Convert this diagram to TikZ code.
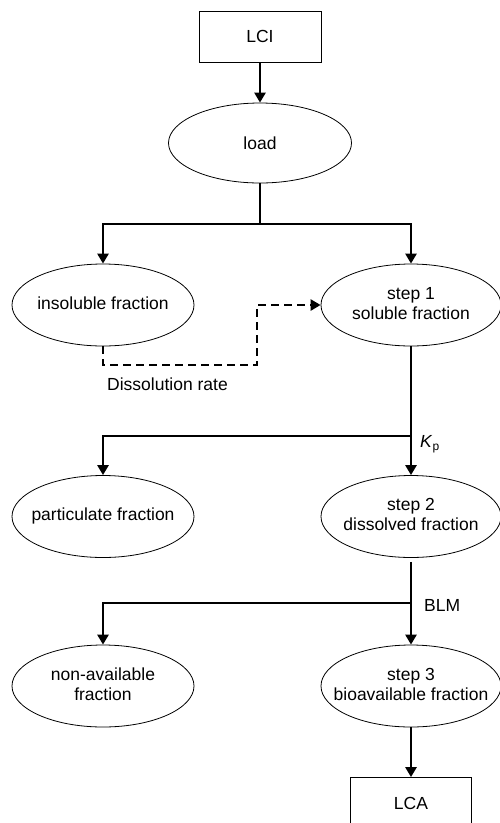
\documentclass[tikz,border=0pt]{standalone}
\usepackage{fontspec}
\setmainfont{Liberation Sans}
\usetikzlibrary{shapes.geometric,arrows.meta}
\newcommand{\etext}[1]{\makebox[0pt]{\begin{tabular}{@{}c@{}}#1\end{tabular}}}
\begin{document}
\begin{tikzpicture}[x=1pt,y=-1pt,
  font=\fontsize{17.5}{20}\selectfont,
  boxnode/.style={draw, line width=0.8pt, minimum width=122pt, minimum height=51pt, inner sep=0pt},
  ellnode/.style={draw, ellipse, line width=0.8pt, minimum width=182pt, minimum height=82pt, inner sep=0pt},
  conn/.style={line width=2.8pt},
  arr/.style={line width=2.8pt, -{Triangle[length=10pt,width=11pt]}},
  darr/.style={line width=2.8pt, dash pattern=on 8pt off 5pt, -{Triangle[length=10pt,width=11pt]}},
  lbl/.style={anchor=west, inner sep=0pt}]
\useasboundingbox (0,0) rectangle (500,823);
\node[boxnode] (lci) at (260,36.5) {LCI};
\node[ellnode, minimum width=183pt, minimum height=80pt] (load) at (260,143) {load};
\node[ellnode] (insol) at (103,305) {\etext{insoluble fraction}};
\node[ellnode, minimum width=180pt] (step1) at (411,305) {\etext{step 1\\soluble fraction}};
\node[ellnode] (part) at (103,516.5) {\etext{particulate fraction}};
\node[ellnode, minimum width=180pt] (step2) at (411,516.5) {\etext{step 2\\dissolved fraction}};
\node[ellnode] (nonav) at (103,686) {\etext{non-available\\fraction}};
\node[ellnode, minimum width=180pt] (step3) at (411,686) {\etext{step 3\\bioavailable fraction}};
\node[boxnode, minimum width=121pt] (lca) at (411,803) {LCA};
\coordinate (j1) at (260,224);
\coordinate (j2) at (411,436);
\coordinate (j3) at (411,603);
\coordinate (d1) at (257,365);
\node[lbl] (dr) at (107,384) {Dissolution rate};
\node[lbl] (kp) at (420,444) {\textit{K}\raisebox{-0.35ex}{\fontsize{12}{12}\selectfont p}};
\node[lbl] (blm) at (424,605) {BLM};
\draw[arr] (lci) -- (load);
\draw[conn] (load.south) -- (j1);
\draw[arr] (j1) -| (insol.north);
\draw[arr] (j1) -| (step1.north);
\draw[darr] (insol.south) |- (d1) |- (step1.west);
\draw[arr] (step1.south) -- (step2.north);
\draw[arr] (j2) -| (part.north);
\draw[arr, shorten <=4pt] (step2.south) -- (step3.north);
\draw[arr] (j3) -| (nonav.north);
\draw[arr] (step3.south) -- (lca.north);
\end{tikzpicture}
\end{document}
